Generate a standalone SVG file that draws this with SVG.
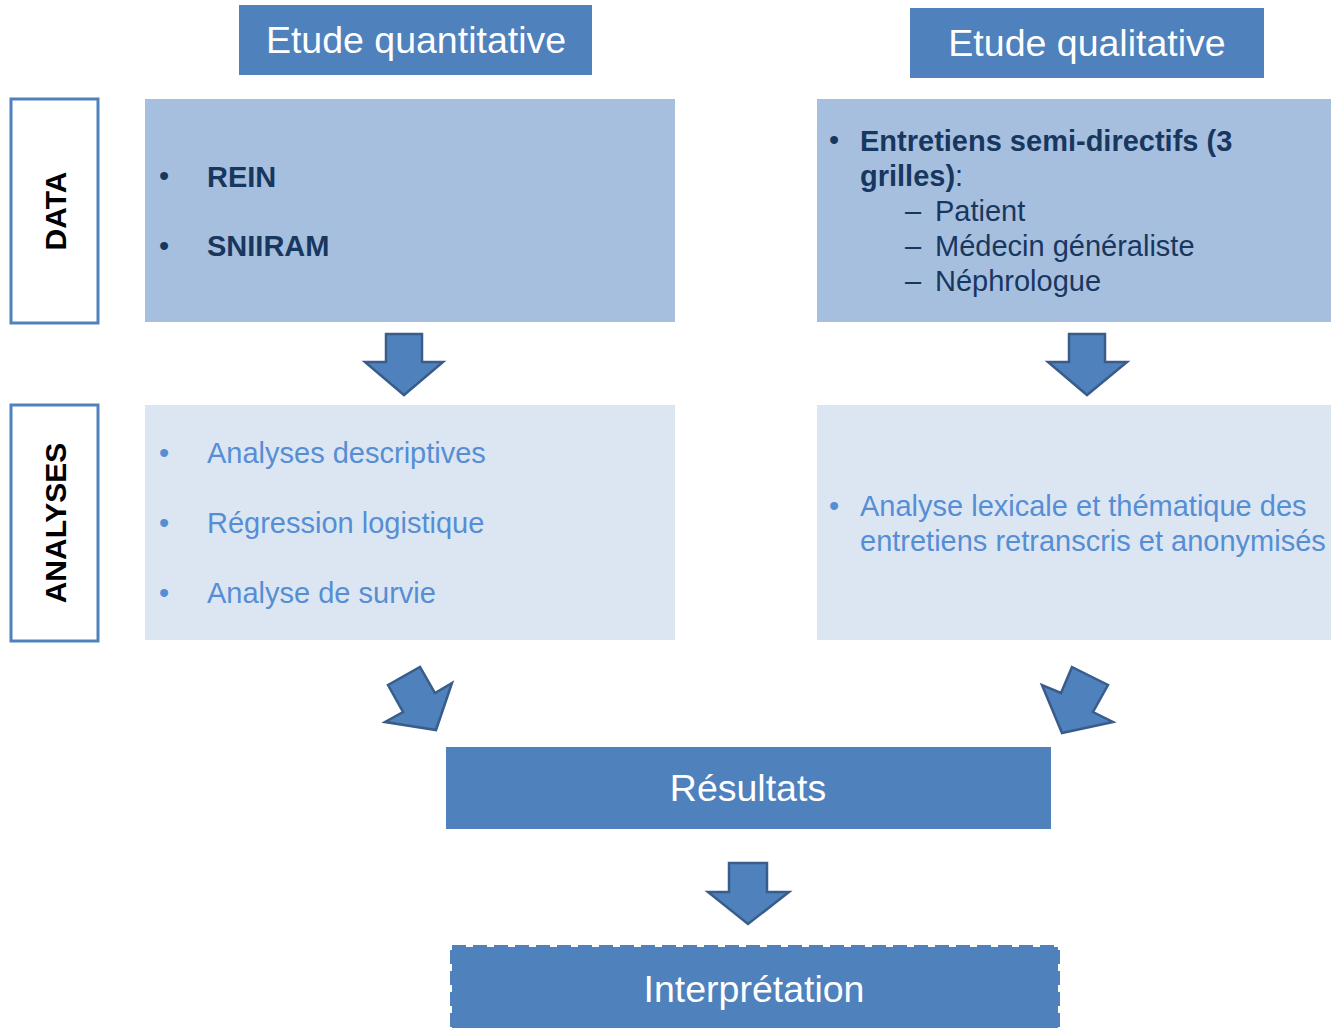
<svg xmlns="http://www.w3.org/2000/svg" width="1331" height="1028" viewBox="0 0 1331 1028">
<style>
.hdr{fill:#4F81BD}
.ht{fill:#fff;font-family:"Liberation Sans",Arial,sans-serif;font-size:37.5px;text-anchor:middle}
.side{fill:#fff;stroke:#4F81BD;stroke-width:3}
.st{fill:#000;font-family:"Liberation Sans",Arial,sans-serif;font-size:30px;font-weight:bold;text-anchor:middle}
.dbox{fill:#A7BFDE}
.abox{fill:#DCE6F2}
.dt{fill:#17375E;font-family:"Liberation Sans",Arial,sans-serif;font-size:29px}
.b{font-weight:bold}
.at{fill:#558ED5;font-family:"Liberation Sans",Arial,sans-serif;font-size:29px}
.arr{fill:#4F81BD;stroke:#385D8A;stroke-width:2.5;stroke-linejoin:miter}
</style>
<rect width="1331" height="1028" fill="#fff"/>
<g id="hdr-quant"><rect class="hdr" x="239" y="5" width="353" height="70"/><text class="ht" x="416" y="53">Etude quantitative</text></g>
<g id="hdr-qual"><rect class="hdr" x="910" y="8" width="354" height="70"/><text class="ht" x="1087" y="56">Etude qualitative</text></g>
<g id="lbl-data"><rect class="side" x="11" y="99" width="87" height="224"/><text class="st" transform="translate(66,211) rotate(-90)">DATA</text></g>
<g id="lbl-analyses"><rect class="side" x="11" y="405" width="87" height="236"/><text class="st" transform="translate(66,523) rotate(-90)">ANALYSES</text></g>
<g id="data-quant"><rect class="dbox" x="145" y="99" width="530" height="223"/>
<text class="dt" x="159" y="186">•</text><text class="dt b" x="207" y="187">REIN</text>
<text class="dt" x="159" y="256">•</text><text class="dt b" x="207" y="256">SNIIRAM</text></g>
<g id="data-qual"><rect class="dbox" x="817" y="99" width="514" height="223"/>
<text class="dt" x="829" y="150">•</text><text class="dt b" x="860" y="151">Entretiens semi-directifs (3</text>
<text class="dt" x="860" y="186"><tspan class="b">grilles)</tspan>:</text>
<text class="dt" x="905" y="221">–</text><text class="dt" x="935" y="221">Patient</text>
<text class="dt" x="905" y="256">–</text><text class="dt" x="935" y="256">Médecin généraliste</text>
<text class="dt" x="905" y="291">–</text><text class="dt" x="935" y="291">Néphrologue</text></g>
<g id="ana-quant"><rect class="abox" x="145" y="405" width="530" height="235"/>
<text class="at" x="159" y="463">•</text><text class="at" x="207" y="463">Analyses descriptives</text>
<text class="at" x="159" y="533">•</text><text class="at" x="207" y="533">Régression logistique</text>
<text class="at" x="159" y="603">•</text><text class="at" x="207" y="603">Analyse de survie</text></g>
<g id="ana-qual"><rect class="abox" x="817" y="405" width="514" height="235"/>
<text class="at" x="829" y="516">•</text><text class="at" x="860" y="516">Analyse lexicale et thématique des</text>
<text class="at" x="860" y="551">entretiens retranscris et anonymisés</text></g>
<g id="resultats"><rect class="hdr" x="446" y="747" width="605" height="82"/><text class="ht" x="748" y="801">Résultats</text></g>
<g id="interpretation"><rect x="452" y="947" width="606" height="85" fill="#4F81BD" stroke="#4F81BD" stroke-width="4" stroke-dasharray="14 7"/><text class="ht" x="754" y="1002">Interprétation</text></g>
<g id="connectors">
<polygon class="arr" points="386,334 422,334 422,362 443,362 404,395 365,362 386,362"/>
<polygon class="arr" points="1069,334 1105,334 1105,362 1127,362 1087,395 1048,362 1069,362"/>
<polygon class="arr" points="388,685 420,667 435,693 452,683 436,730 385,722 403,712"/>
<polygon class="arr" points="1072,667 1108,685 1093,712 1113,722 1062,733 1042,685 1061,693"/>
<polygon class="arr" points="729,863 767,863 767,892 789,892 748,924 708,892 729,892"/>
</g>
</svg>
